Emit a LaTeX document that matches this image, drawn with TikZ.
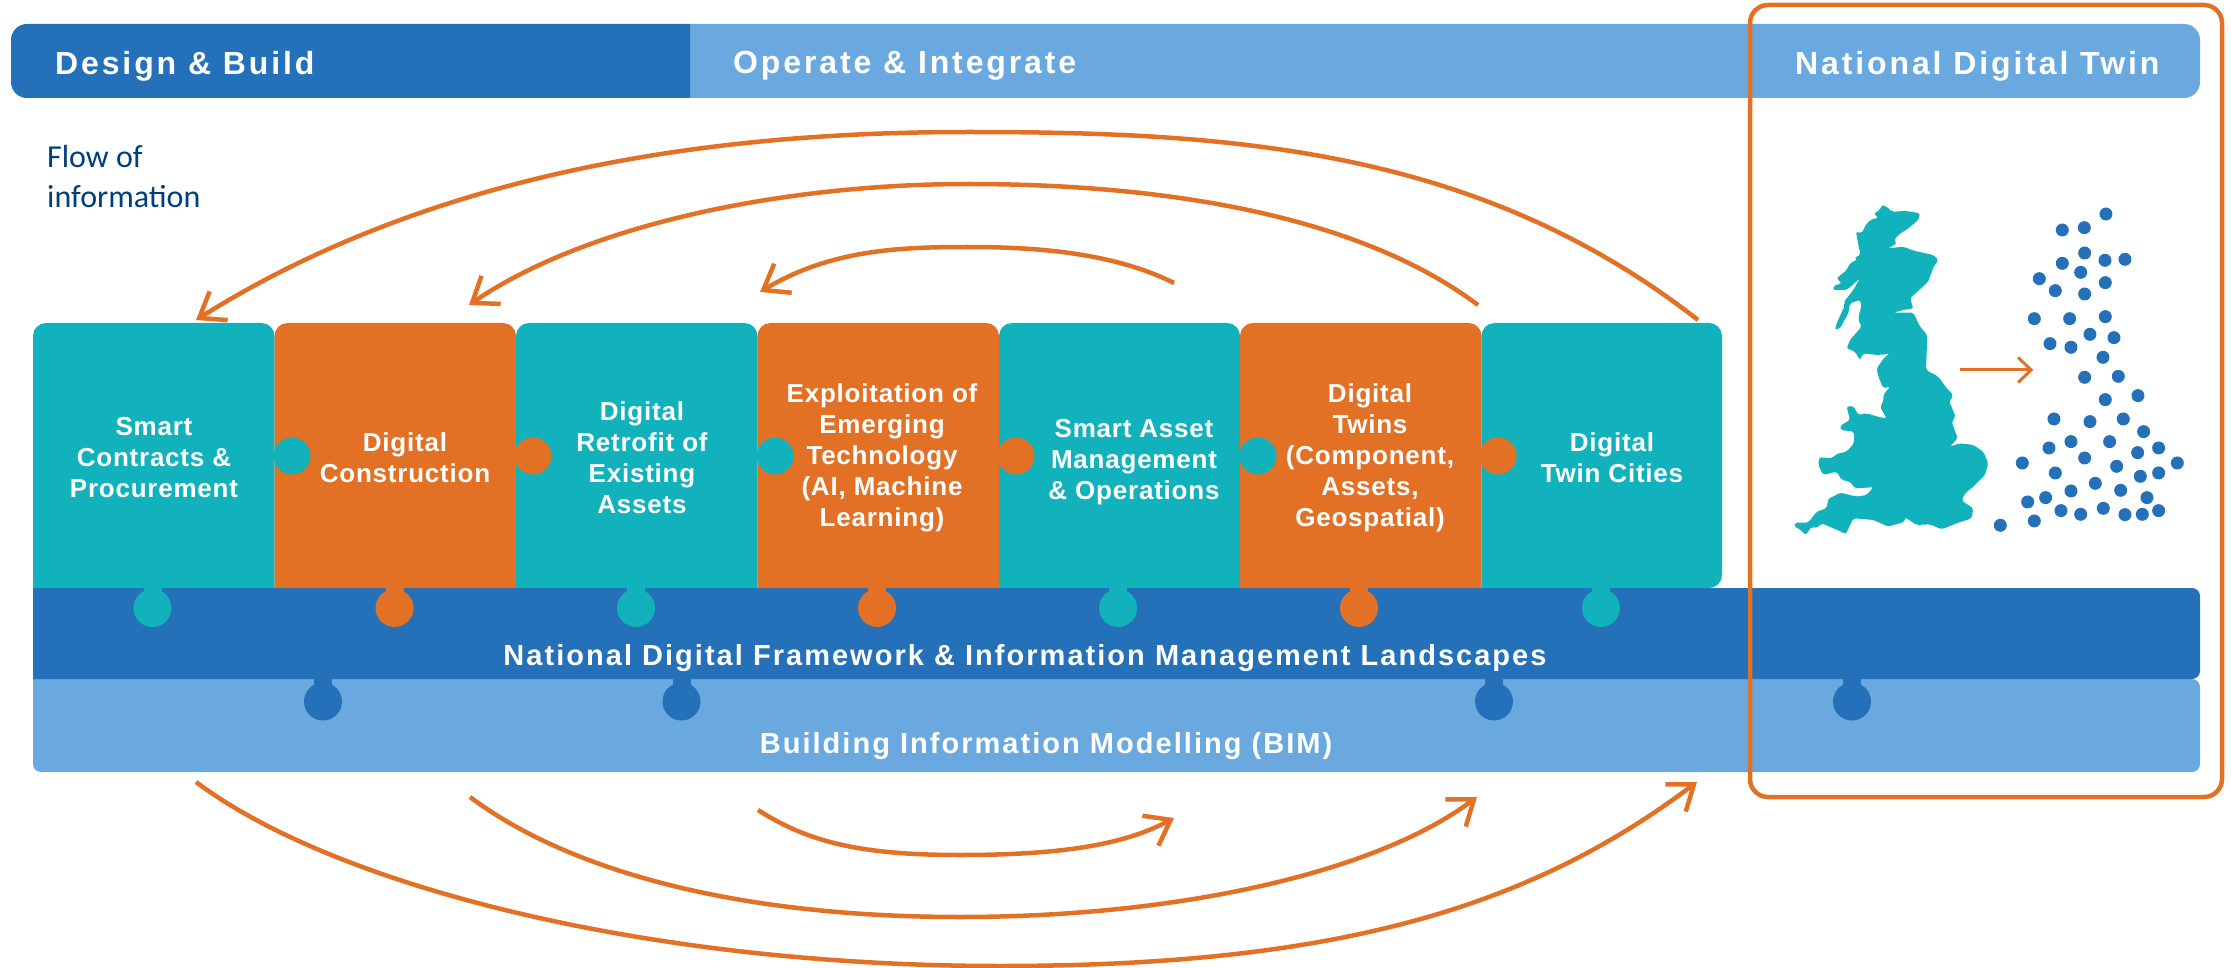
\documentclass[tikz,border=0pt]{standalone}
\usepackage{fontspec}
\setmainfont{Liberation Sans}
\newfontfamily\flowfont{Carlito}
\newfontfamily\boxfont[LetterSpace=3]{Liberation Sans Bold}
\newfontfamily\headfont[LetterSpace=9]{Liberation Sans Bold}
\newfontfamily\bandfont[LetterSpace=7]{Liberation Sans Bold}
\usetikzlibrary{arrows.meta}
\definecolor{tealc}{HTML}{12B2BD}
\definecolor{orangec}{HTML}{E27025}
\definecolor{navyc}{HTML}{2470B9}
\definecolor{lightc}{HTML}{6AA9E0}
\definecolor{flowc}{HTML}{003F7D}
\tikzset{
  x=1pt,y=-1pt,
  flow/.style={draw=orangec,line width=4.5pt,-{Straight Barb[length=23pt,width=34pt,line width=4.5pt]}},
  boxtext/.style={text=white,align=center,inner sep=0pt,font=\boxfont\fontsize{26}{31}\selectfont},
  headtext/.style={text=white,inner sep=0pt,font=\headfont\fontsize{32}{36}\selectfont},
  bandtext/.style={text=white,inner sep=0pt,font=\bandfont\fontsize{29}{32}\selectfont},
}
\newcommand{\puzzlebox}[3]{\fill[#3] (#1,588) -- (#1,336) arc[start angle=180,end angle=90,radius=13pt] -- (#2-13,323) arc[start angle=90,end angle=0,radius=13pt] -- (#2,588) -- cycle;}
\newcommand{\vtab}[4]{\fill[#4] (#1-9,#2) rectangle (#1+9,#2+12); \fill[#4] (#1,#3) circle[radius=19pt];}
\begin{document}
\begin{tikzpicture}
\useasboundingbox (0,0) rectangle (2231,968);
% header
\fill[lightc] (690,24) -- (2184,24) arc[start angle=90,end angle=0,radius=16pt] -- (2200,82) arc[start angle=0,end angle=-90,radius=16pt] -- (690,98) -- cycle;
\fill[navyc] (690,24) -- (27,24) arc[start angle=90,end angle=180,radius=16pt] -- (11,82) arc[start angle=180,end angle=270,radius=16pt] -- (690,98) -- cycle;
\node[headtext,anchor=west] (design) at (55,66) {Design \& Build};
\node[headtext,anchor=west] (operate) at (733,66) {Operate \& Integrate};
\node[headtext,anchor=west] (ndt) at (1795,66) {National Digital Twin};
\node[anchor=north west,inner sep=0pt,align=left,text=flowc,font=\flowfont\fontsize{32}{40}\selectfont] (flowlab) at (47,145) {Flow of\\information};
% bands
\fill[lightc] (33,679) -- (33,764) arc[start angle=180,end angle=270,radius=8pt] -- (2192,772) arc[start angle=-90,end angle=0,radius=8pt] -- (2200,687) arc[start angle=0,end angle=90,radius=8pt] -- cycle;
\fill[navyc] (33,588) -- (33,679) -- (2192,679) arc[start angle=-90,end angle=0,radius=8pt] -- (2200,596) arc[start angle=0,end angle=90,radius=8pt] -- cycle;
\foreach \x in {323,681.5,1494,1852} {\vtab{\x}{677}{701.5}{navyc}}
% puzzle boxes
\puzzlebox{33}{274.5}{tealc}
\puzzlebox{274.5}{516}{orangec}
\puzzlebox{516}{757.5}{tealc}
\puzzlebox{757.5}{999}{orangec}
\puzzlebox{999}{1240}{tealc}
\puzzlebox{1240}{1481.5}{orangec}
\fill[tealc] (1481.5,588) -- (1481.5,336) arc[start angle=180,end angle=90,radius=13pt] -- (1709,323) arc[start angle=90,end angle=0,radius=13pt] -- (1722,575) arc[start angle=0,end angle=-90,radius=13pt] -- cycle;
% tabs
\foreach \x/\c in {292/tealc,533/orangec,775/tealc,1016/orangec,1258/tealc,1498/orangec}
  {\fill[\c] (\x,456) circle[radius=18.5pt];}
\foreach \x/\c in {152.5/tealc,394.5/orangec,636/tealc,877/orangec,1118/tealc,1359/orangec,1601/tealc}
  {\vtab{\x}{586}{608}{\c}}
% box labels
\node[boxtext] (b1) at (154,458) {Smart\\Contracts \&\\Procurement};
\node[boxtext] (b2) at (405,458) {Digital\\Construction};
\node[boxtext] (b3) at (642,458) {Digital\\Retrofit of\\Existing\\Assets};
\node[boxtext] (b4) at (882,458) {Exploitation of\\Emerging\\Technology\\(AI, Machine\\Learning)};
\node[boxtext] (b5) at (1134,462) {Smart Asset\\Management\\\& Operations};
\node[boxtext] (b6) at (1370,458) {Digital\\Twins\\(Component,\\Assets,\\Geospatial)};
\node[boxtext] (b7) at (1612,458) {Digital\\Twin Cities};
\node[bandtext] (ndf) at (1025,658) {National Digital Framework \& Information Management Landscapes};
\node[bandtext] (bim) at (1046,746) {Building Information Modelling (BIM)};
% highlight frame
\draw[orangec,line width=4.5pt,rounded corners=18pt] (1750,5) rectangle (2222,797);
% flow endpoints
\coordinate (t1s) at (1698,320); \coordinate (t1m) at (968,132); \coordinate (t1e) at (196,320);
\coordinate (t2s) at (1478,305); \coordinate (t2m) at (968,184); \coordinate (t2e) at (469,305);
\coordinate (t3s) at (1174,283); \coordinate (t3m) at (968,247); \coordinate (t3e) at (760,292);
\coordinate (u1s) at (196,782); \coordinate (u1m) at (1000,966); \coordinate (u1e) at (1697,782);
\coordinate (u2s) at (470,797); \coordinate (u2m) at (960,917); \coordinate (u2e) at (1477,797);
\coordinate (u3s) at (758,810); \coordinate (u3m) at (960,855); \coordinate (u3e) at (1174,818);
\draw[flow] (t1s) .. controls (1478,148) and (1230,132) .. (t1m) .. controls (738,132) and (446,163) .. (t1e);
\draw[flow] (t2s) .. controls (1348,207.5) and (1138,184) .. (t2m) .. controls (788,184) and (589,223) .. (t2e);
\draw[flow] (t3s) .. controls (1114,253) and (1038,247) .. (t3m) .. controls (898,247) and (830,250) .. (t3e);
\draw[flow] (u1s) .. controls (336,887) and (650,966) .. (u1m) .. controls (1350,966) and (1537,902) .. (u1e);
\draw[flow] (u2s) .. controls (570,872) and (740,917) .. (u2m) .. controls (1180,917) and (1377,872) .. (u2e);
\draw[flow] (u3s) .. controls (808,842) and (860,855) .. (u3m) .. controls (1060,855) and (1124,845) .. (u3e);
% map
\begin{scope}[shift={(1740,180)},x=0.3333pt,y=-0.3333pt]
\fill[tealc,rounded corners=2pt] (425,75)--(440,80)--(455,95)--(500,93)--(540,100)--(535,120)--(505,145)--(475,165)--(462,180)--(470,190)--(445,205)--(490,200)--(520,212)--(580,225)--(596,240)--(580,262)--(565,305)--(510,355)--(520,385)--(490,390)--(460,398)--(520,398)--(540,440)--(562,465)--(558,570)--(595,590)--(620,625)--(640,645)--(628,665)--(647,710)--(635,725)--(653,775)--(630,800)--(660,790)--(700,795)--(730,815)--(745,850)--(735,885)--(700,920)--(675,940)--(665,962)--(700,985)--(695,1015)--(650,1030)--(605,1048)--(570,1033)--(530,1035)--(495,1012)--(495,1025)--(445,1040)--(400,1020)--(340,1015)--(318,1062)--(280,1045)--(245,1030)--(230,1045)--(215,1040)--(197,1065)--(180,1048)--(162,1040)--(165,1028)--(205,1028)--(230,995)--(260,985)--(265,955)--(280,950)--(300,938)--(350,950)--(380,945)--(400,922)--(345,925)--(330,905)--(305,900)--(290,875)--(250,885)--(235,855)--(238,832)--(275,835)--(290,822)--(320,815)--(342,790)--(342,755)--(302,750)--(300,738)--(330,720)--(320,680)--(340,678)--(355,705)--(380,700)--(420,712)--(440,715)--(420,680)--(430,665)--(430,645)--(450,620)--(430,625)--(415,590)--(410,565)--(435,530)--(450,522)--(410,525)--(370,520)--(360,540)--(345,515)--(320,505)--(330,480)--(365,440)--(355,420)--(360,390)--(365,385)--(360,360)--(330,370)--(325,400)--(300,445)--(285,450)--(290,430)--(315,375)--(310,368)--(340,330)--(360,295)--(320,330)--(280,330)--(280,318)--(305,310)--(290,295)--(320,270)--(330,250)--(350,240)--(345,232)--(362,225)--(355,195)--(348,155)--(365,160)--(380,130)--(400,115)--(415,115)--(402,100)--(420,90)--cycle;
\foreach \x/\y in {1098/102,967/150,1033/143,1034/219,967/250,1095/241,1155/238,1022/277,898/296,946/332,1034/342,1096/308,883/416,989/416,1096/410,1050/463,1122/473,930/491,993/502,1089/532,1034/592,1135/589,1096/659,1194/647,942/717,1050/725,1150/717,1211/755,993/785,1109/785,927/804,1034/834,1193/818,1256/804,1312/849,847/849,1130/859,946/879,1201/889,1256/879,1066/910,993/933,1142/931,917/953,863/966,1221/953,963/992,1022/1003,1090/985,1155/1004,1207/1003,1256/992,883/1023,781/1036}
  {\fill[navyc] (\x,\y) circle[radius=6.5pt];}
\coordinate (ma) at (660,570); \coordinate (mb) at (880,570);
\end{scope}
\draw[draw=orangec,line width=3pt,-{Straight Barb[length=13pt,width=25pt,line width=3pt]}] (ma) -- (mb);
\end{tikzpicture}
\end{document}
